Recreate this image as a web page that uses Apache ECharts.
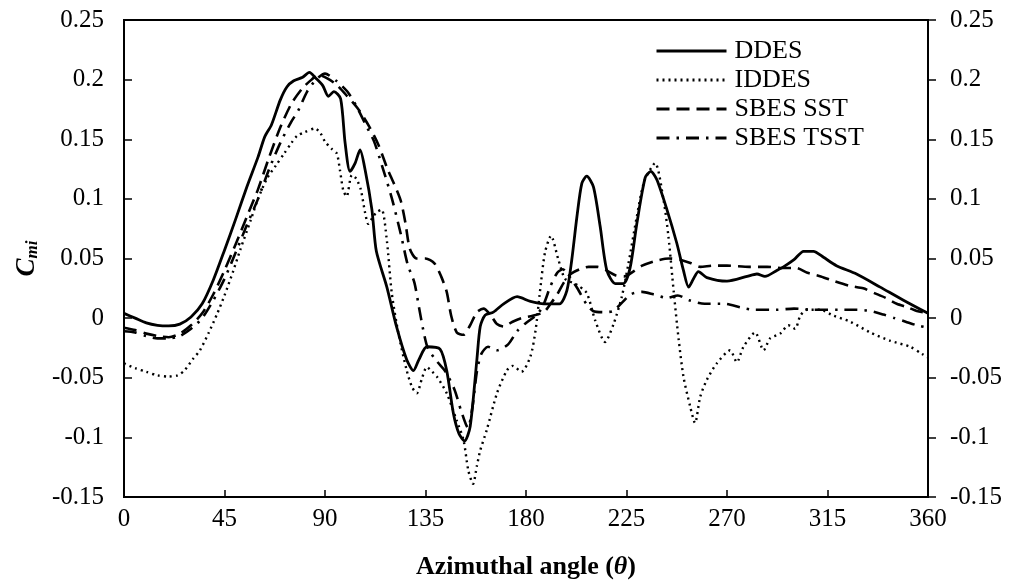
<!DOCTYPE html>
<html>
<head>
<meta charset="utf-8">
<script src="https://cdn.jsdelivr.net/npm/echarts@6/dist/echarts.min.js"></script>
<style>
html,body{margin:0;padding:0;background:#fff;}
#chart{width:1010px;height:586px;}
</style>
</head>
<body>
<div id="chart"></div>
<script>
// ---- data (azimuthal angle [deg], C_mi) ----
const xTicks = [0, 45, 90, 135, 180, 225, 270, 315, 360];
const yTicks = [-0.15, -0.1, -0.05, 0, 0.05, 0.1, 0.15, 0.2, 0.25];
const seriesNames = ['DDES', 'IDDES', 'SBES SST', 'SBES TSST'];

const DDES = [[0,0.004],[5,0.0],[10,-0.004],[15,-0.006],[20,-0.0065],[25,-0.005],[30,0.001],[35,0.012],[40,0.032],[45,0.057],[50,0.083],[55,0.11],[60,0.135],[63,0.152],[66,0.162],[70,0.183],[73,0.194],[76,0.199],[80,0.202],[83,0.206],[86,0.201],[89,0.195],[91.5,0.186],[94,0.19],[97,0.184],[99,0.147],[101.2,0.123],[103.5,0.13],[105.7,0.141],[108,0.124],[111,0.091],[113,0.056],[117.7,0.026],[122,-0.007],[126.6,-0.035],[129.6,-0.044],[132,-0.035],[135.6,-0.024],[141.5,-0.026],[144.5,-0.044],[147.5,-0.08],[150,-0.097],[152.5,-0.103],[155,-0.091],[158,-0.035],[159.5,-0.007],[161.7,0.0025],[165.4,0.005],[170,0.012],[176,0.018],[182,0.014],[188,0.012],[195,0.012],[198.3,0.023],[200.5,0.049],[202.8,0.085],[205,0.113],[207.2,0.119],[210.2,0.11],[213.2,0.077],[216.2,0.04],[220,0.029],[223.6,0.029],[226.6,0.042],[229.6,0.079],[233.4,0.118],[235.9,0.123],[238.6,0.116],[243.1,0.091],[247.5,0.063],[250.5,0.04],[252.8,0.026],[255,0.033],[257.2,0.039],[261,0.034],[270,0.031],[279,0.035],[283.4,0.037],[287,0.035],[292.3,0.04],[295.3,0.043],[300,0.049],[304.3,0.056],[308.7,0.056],[313.2,0.051],[319,0.044],[328,0.037],[338.6,0.026],[349,0.015],[360,0.004]];

const IDDES = [[0,-0.038],[5,-0.042],[10,-0.045],[15,-0.048],[20,-0.049],[24,-0.048],[27,-0.044],[31,-0.034],[34,-0.027],[38,-0.012],[41.8,0.004],[45,0.019],[49,0.04],[52,0.057],[56.7,0.082],[60,0.1],[64,0.117],[68,0.128],[71.7,0.138],[75,0.147],[77.6,0.153],[81,0.156],[85.5,0.159],[88,0.155],[90,0.148],[93,0.142],[95.3,0.138],[96.7,0.124],[98.2,0.107],[99.7,0.102],[102,0.12],[104,0.117],[106,0.108],[108,0.088],[109.4,0.079],[111.5,0.085],[113.2,0.089],[115.4,0.091],[117.7,0.065],[119.9,0.021],[122.9,-0.013],[126.6,-0.044],[129,-0.058],[131.1,-0.063],[133.5,-0.05],[135.6,-0.041],[138,-0.045],[140.1,-0.049],[144.5,-0.063],[149,-0.086],[152,-0.102],[154.2,-0.128],[156.3,-0.139],[158,-0.124],[159.5,-0.111],[162.4,-0.094],[167,-0.063],[171.4,-0.044],[174,-0.04],[178,-0.045],[182,-0.032],[184.3,-0.01],[186.3,0.023],[188.5,0.055],[191.2,0.069],[194.5,0.049],[197.5,0.033],[202.8,0.028],[207.2,0.021],[211,-0.002],[215.4,-0.02],[219.2,-0.005],[222.9,0.018],[225.9,0.046],[229.6,0.085],[233,0.115],[237.8,0.13],[241.6,0.099],[243.8,0.068],[246.1,0.023],[248.3,-0.017],[250.5,-0.049],[253.5,-0.074],[255.7,-0.088],[258,-0.066],[260.9,-0.052],[265.4,-0.038],[271.4,-0.027],[274.4,-0.037],[277.4,-0.024],[282.6,-0.012],[286.4,-0.027],[289.3,-0.017],[293.8,-0.013],[297.5,-0.006],[300.5,-0.009],[302.8,0.002],[305.8,0.007],[311.7,0.007],[317.7,0.002],[325.2,-0.003],[334.1,-0.012],[343.1,-0.019],[352,-0.024],[357.3,-0.03],[360,-0.033]];

const SBES_SST = [[0,-0.008],[5,-0.01],[10,-0.013],[15,-0.015],[20,-0.016],[25,-0.013],[30,-0.006],[35,0.004],[40,0.02],[45,0.04],[50,0.062],[55,0.085],[60,0.108],[65,0.135],[70,0.16],[75,0.18],[80,0.193],[84,0.2],[87,0.204],[91,0.201],[95,0.196],[100,0.186],[105,0.175],[110,0.16],[114,0.145],[118,0.125],[122,0.108],[124,0.098],[126,0.08],[128,0.058],[131,0.05],[135,0.05],[139,0.046],[142,0.035],[144.5,0.022],[146.5,0.002],[149,-0.012],[152,-0.014],[155,-0.006],[158,0.005],[161,0.008],[164,0.003],[167,-0.005],[170,-0.007],[174,-0.003],[178,0.0],[183,0.002],[188,0.005],[191,0.012],[194,0.02],[197,0.03],[200,0.037],[204,0.041],[208,0.043],[212,0.043],[216,0.04],[220,0.036],[224,0.035],[228,0.039],[232,0.044],[238,0.048],[244,0.05],[249,0.049],[254,0.046],[258,0.043],[264,0.044],[270,0.044],[280,0.043],[288,0.043],[295,0.042],[301,0.042],[306,0.038],[312,0.035],[318,0.031],[325,0.027],[331,0.025],[336,0.021],[341,0.017],[346,0.012],[351,0.009],[355,0.006],[360,0.004]];

const SBES_TSST = [[0,-0.011],[5,-0.012],[10,-0.015],[15,-0.017],[20,-0.017],[25,-0.015],[30,-0.009],[35,0.0],[40,0.015],[45,0.033],[50,0.055],[55,0.078],[60,0.1],[65,0.125],[70,0.147],[75,0.165],[78,0.174],[82,0.19],[86,0.2],[90,0.205],[95,0.199],[100,0.19],[104,0.178],[108,0.163],[112,0.148],[116,0.125],[120,0.1],[124,0.07],[127,0.045],[130,0.03],[132,0.01],[134,-0.01],[136,-0.025],[140,-0.036],[144,-0.045],[148,-0.06],[151,-0.078],[154,-0.092],[156,-0.075],[158,-0.045],[160,-0.03],[163,-0.024],[167,-0.027],[172,-0.022],[176,-0.011],[180,-0.004],[185,0.003],[188,0.012],[191,0.027],[194,0.038],[196.5,0.041],[199,0.036],[203,0.025],[207,0.012],[210,0.006],[215,0.005],[219,0.006],[223,0.013],[227,0.02],[232,0.022],[237,0.02],[243,0.017],[248,0.019],[253,0.015],[260,0.012],[269,0.012],[276,0.009],[282,0.007],[292,0.007],[300,0.008],[308,0.007],[320,0.007],[328,0.007],[334,0.006],[340,0.003],[345,0.0],[350,-0.003],[355,-0.006],[360,-0.008]];

// ---- chart ----
const FONT = '"Liberation Serif", "Times New Roman", serif';
const chart = echarts.init(document.getElementById('chart'), null, {renderer: 'canvas'});

function fmt(v) { return String(+v.toFixed(2)); }

const yBase = {
  type: 'value',
  min: yTicks[0],
  max: yTicks[yTicks.length - 1],
  interval: 0.05,
  splitLine: {show: false},
  axisLine: {show: true, onZero: false, lineStyle: {color: '#000', width: 2}},
  axisLabel: {color: '#000', fontFamily: FONT, fontSize: 25, formatter: fmt},
};

const seriesData = [DDES, IDDES, SBES_SST, SBES_TSST];
const styles = [
  {type: 'solid', width: 2.8},
  {type: [2, 4], width: 2.4},
  {type: [13, 7], width: 2.6},
  {type: [13, 7, 2.5, 7], width: 2.6}
];

chart.setOption({
  backgroundColor: '#fff',
  animation: false,
  grid: {left: 124, top: 20, width: 804, height: 477, show: true, borderColor: '#000', borderWidth: 2, backgroundColor: 'transparent'},
  legend: {
    orient: 'vertical',
    left: 655,
    top: 38,
    padding: 0,
    itemWidth: 70,
    itemHeight: 14,
    itemGap: 3,
    data: seriesNames,
    itemStyle: {color: 'rgba(0,0,0,0)', borderColor: 'rgba(0,0,0,0)', borderWidth: 0},
    lineStyle: {width: 3},
    textStyle: {color: '#000', fontFamily: FONT, fontSize: 26, lineHeight: 26, padding: [0, 0, 0, 3]}
  },
  xAxis: {
    type: 'value',
    min: xTicks[0],
    max: xTicks[xTicks.length - 1],
    interval: 45,
    splitLine: {show: false},
    axisLine: {show: true, onZero: false, lineStyle: {color: '#000', width: 2}},
    axisTick: {show: true, inside: true, length: 7, lineStyle: {color: '#000', width: 1.5}},
    axisLabel: {color: '#000', fontFamily: FONT, fontSize: 25, margin: 10},
    name: '{b|Azimuthal angle (}{bi|θ}{b|)}',
    nameLocation: 'middle',
    nameGap: 57,
    nameTextStyle: {
      rich: {
        b: {fontFamily: FONT, fontSize: 26, fontWeight: 'bold', color: '#000'},
        bi: {fontFamily: FONT, fontSize: 26, fontWeight: 'bold', fontStyle: 'italic', color: '#000'}
      }
    }
  },
  yAxis: [
    Object.assign({}, yBase, {
      position: 'left',
      axisTick: {show: true, inside: true, length: 8, lineStyle: {color: '#000', width: 1.5}},
      axisLabel: Object.assign({}, yBase.axisLabel, {margin: 20}),
      name: '{c|C}{s|mi}',
      nameLocation: 'middle',
      nameRotate: 90,
      nameGap: 78,
      nameTextStyle: {
        rich: {
          c: {fontFamily: FONT, fontSize: 27, fontWeight: 'bold', fontStyle: 'italic', color: '#000'},
          s: {fontFamily: FONT, fontSize: 17, fontWeight: 'bold', fontStyle: 'italic', color: '#000', padding: [10, 0, 0, 0]}
        }
      }
    }),
    Object.assign({}, yBase, {
      position: 'right',
      axisTick: {show: true, inside: false, length: 8, lineStyle: {color: '#000', width: 1.5}},
      axisLabel: Object.assign({}, yBase.axisLabel, {margin: 22})
    })
  ],
  series: seriesNames.map((name, i) => ({
    name: name,
    type: 'line',
    data: seriesData[i],
    yAxisIndex: 0,
    smooth: 0.25,
    symbol: 'none',
    showSymbol: false,
    lineStyle: Object.assign({color: '#000', cap: 'butt', join: 'round'}, styles[i]),
    itemStyle: {color: '#000'}
  }))
});
</script>
</body>
</html>
